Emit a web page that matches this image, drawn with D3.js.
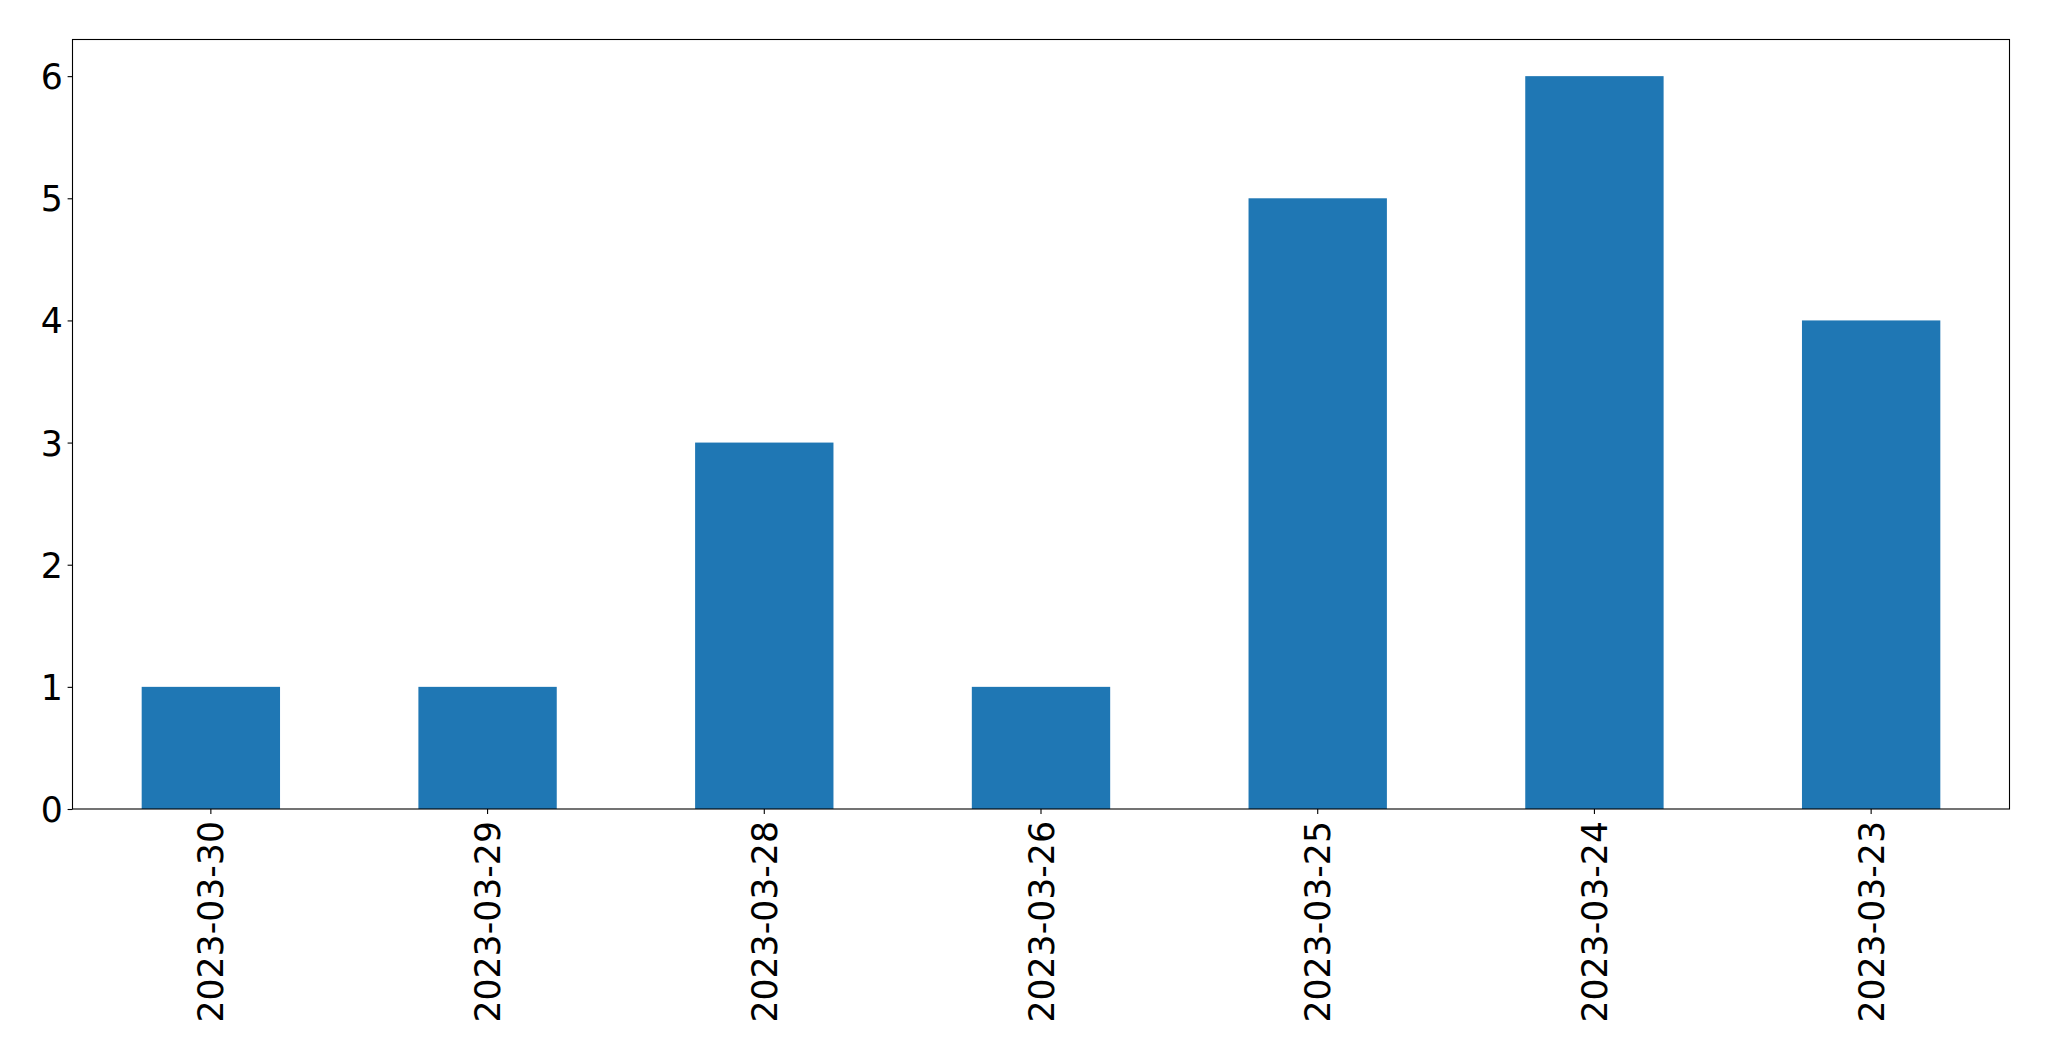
<!DOCTYPE html>
<html>
<head>
<meta charset="utf-8">
<script src="https://cdn.jsdelivr.net/npm/d3@7"></script>
<style>
html,body{margin:0;padding:0;background:#fff;}
svg{display:block;}
text{font-family:"DejaVu Sans",sans-serif;fill:#000;}
</style>
</head>
<body>
<script>
const categories = ["2023-03-30","2023-03-29","2023-03-28","2023-03-26","2023-03-25","2023-03-24","2023-03-23"];
const values = [1,1,3,1,5,6,4];
const yTicks = [0,1,2,3,4,5,6];

const W = 2049, H = 1061;
const m = {left:72.5, right:W-2009.5, top:39.5, bottom:H-809};
const svg = d3.select("body").append("svg").attr("width",W).attr("height",H);
const iw = W-m.left-m.right, ih = H-m.top-m.bottom;
const g = svg.append("g").attr("transform",`translate(${m.left},${m.top})`);

const x = d3.scaleBand().domain(categories).range([0,iw]).paddingInner(0.5).paddingOuter(0.25);
const y = d3.scaleLinear().domain([0,6.3]).range([ih,0]);

g.selectAll("rect.bar").data(values).enter().append("rect")
  .attr("class","bar")
  .attr("x",(d,i)=>x(categories[i]))
  .attr("width",x.bandwidth())
  .attr("y",d=>y(d))
  .attr("height",d=>ih-y(d))
  .attr("fill","#1f77b4");

const fs = "34.7px";
const yAxis = g.append("g").call(d3.axisLeft(y).tickValues(yTicks).tickFormat(d3.format("d")).tickSize(4.9).tickPadding(4.9));
yAxis.select(".domain").remove();
yAxis.selectAll("line").attr("stroke","#000").attr("stroke-width",1.1);
yAxis.selectAll("text").style("font-size",fs).attr("dy","0.36em");

const xAxis = g.append("g").attr("transform",`translate(0,${ih})`)
  .call(d3.axisBottom(x).tickSize(4.9).tickPadding(4.9));
xAxis.select(".domain").remove();
xAxis.selectAll("line").attr("stroke","#000").attr("stroke-width",1.1);
xAxis.selectAll("text").style("font-size",fs)
  .attr("transform","rotate(-90)")
  .attr("text-anchor","end")
  .attr("x",-12).attr("y",0).attr("dy","0.36em");

g.append("rect").attr("x",0).attr("y",0).attr("width",iw).attr("height",ih)
  .attr("fill","none").attr("stroke","#000").attr("stroke-width",1.1);
</script>
</body>
</html>
